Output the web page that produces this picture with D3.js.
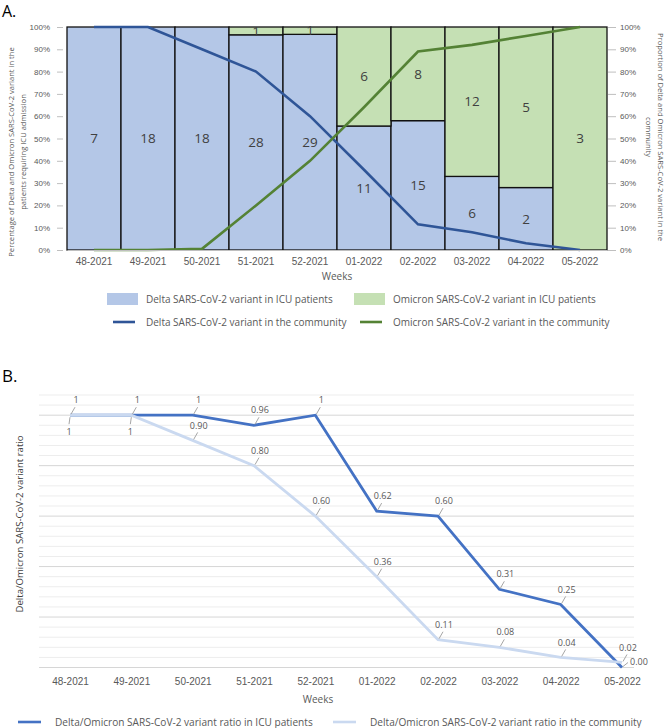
<!DOCTYPE html>
<html>
<head>
<meta charset="utf-8">
<script src="https://cdn.jsdelivr.net/npm/d3@7"></script>
<style>
  body { margin: 0; background: #fff; }
  svg { font-family: "Open Sans", Lato, sans-serif; }
</style>
</head>
<body>
<div id="chart"></div>
<script>
const weeks = ["48-2021", "49-2021", "50-2021", "51-2021", "52-2021",
  "01-2022", "02-2022", "03-2022", "04-2022", "05-2022"];

// panel A: ICU patients (counts shown in bars, share of Delta in %)
const deltaIcuCounts = [7, 18, 18, 28, 29, 11, 15, 6, 2, 0];
const omicronIcuCounts = [0, 0, 0, 1, 1, 6, 8, 12, 5, 3];
const deltaIcuShare = [100, 100, 100, 96.5, 96.7, 55.6, 58, 33, 28, 0];

// panel A: community proportions (%)
const deltaCommunity = [100, 100, 90, 80, 60, 36, 11.5, 8, 3, 0];
const omicronCommunity = [0, 0, 0.5, 20, 40, 64, 89, 92, 96, 100];

// panel B: Delta/Omicron ratios
const icuRatio = [1, 1, 1, 0.96, 1, 0.62, 0.60, 0.31, 0.25, 0.00];
const communityRatio = [1, 1, 0.90, 0.80, 0.60, 0.36, 0.11, 0.08, 0.04, 0.02];

const pctTicks = d3.range(0, 101, 10);

const width = 666;
const height = 728;

const svg = d3.select("#chart").append("svg")
  .attr("width", width)
  .attr("height", height);

const grey = "#595959";
const blueBar = "#b4c7e7";
const greenBar = "#c5e0b4";
const blueLine = "#2f5597";
const greenLine = "#548235";

// ---------------- Panel A ----------------
svg.append("text").attr("x", 2).attr("y", 17)
  .attr("font-size", 16).attr("fill", "#000").text("A.");

const xA = d3.scaleBand().domain(weeks).range([67, 607]).padding(0);
const yA = d3.scaleLinear().domain([0, 100]).range([250, 27]);

const a = svg.append("g");

// left axis
const leftAx = a.append("g").attr("transform", "translate(63,0)")
  .call(d3.axisLeft(yA).tickValues(pctTicks).tickSize(6).tickPadding(7)
    .tickFormat(d => d + "%"));
leftAx.select(".domain").remove();
leftAx.selectAll("line").attr("stroke", "#bfbfbf");
leftAx.selectAll("text").attr("fill", grey).attr("font-size", 8);

// right axis
const rightAx = a.append("g").attr("transform", "translate(608,0)")
  .call(d3.axisRight(yA).tickValues(pctTicks).tickSize(8).tickPadding(4)
    .tickFormat(d => d + "%"));
rightAx.select(".domain").remove();
rightAx.selectAll("line").attr("stroke", "#bfbfbf");
rightAx.selectAll("text").attr("fill", grey).attr("font-size", 8);

// bars
const rows = weeks.map((w, i) => ({
  week: w, share: deltaIcuShare[i],
  delta: deltaIcuCounts[i], omicron: omicronIcuCounts[i]
}));

a.selectAll("rect.delta").data(rows.filter(d => d.share > 0)).join("rect")
  .attr("class", "delta")
  .attr("x", d => xA(d.week))
  .attr("width", xA.bandwidth())
  .attr("y", d => yA(d.share))
  .attr("height", d => yA(0) - yA(d.share))
  .attr("fill", blueBar).attr("stroke", "#111").attr("stroke-width", 1.3);

a.selectAll("rect.omicron").data(rows.filter(d => d.share < 100)).join("rect")
  .attr("class", "omicron")
  .attr("x", d => xA(d.week))
  .attr("width", xA.bandwidth())
  .attr("y", yA(100))
  .attr("height", d => yA(d.share) - yA(100))
  .attr("fill", greenBar).attr("stroke", "#111").attr("stroke-width", 1.3);

// bar labels
a.selectAll("text.dlab").data(rows.filter(d => d.delta > 0)).join("text")
  .attr("x", d => xA(d.week) + xA.bandwidth() / 2)
  .attr("y", d => yA(d.share / 2))
  .attr("dy", "0.35em").attr("text-anchor", "middle")
  .attr("font-size", 13.5).attr("fill", "#404040")
  .text(d => d.delta);

a.selectAll("text.olab").data(rows.filter(d => d.omicron > 0)).join("text")
  .attr("x", d => xA(d.week) + xA.bandwidth() / 2)
  .attr("y", d => yA((100 + d.share) / 2))
  .attr("dy", "0.35em").attr("text-anchor", "middle")
  .attr("font-size", 13.5).attr("fill", "#404040")
  .text(d => d.omicron);

// community lines
const lineA = d3.line()
  .x((d, i) => xA(weeks[i]) + xA.bandwidth() / 2)
  .y(d => yA(d));

a.append("path").datum(deltaCommunity)
  .attr("d", lineA).attr("fill", "none")
  .attr("stroke", blueLine).attr("stroke-width", 2.6);
a.append("path").datum(omicronCommunity)
  .attr("d", lineA).attr("fill", "none")
  .attr("stroke", greenLine).attr("stroke-width", 2.6);

// x labels
const bottomAx = a.append("g").attr("transform", "translate(0,250)")
  .call(d3.axisBottom(xA).tickSize(0).tickPadding(8));
bottomAx.select(".domain").attr("stroke", "#bfbfbf");
bottomAx.selectAll("text").attr("fill", grey).attr("font-size", 10);

a.append("text").attr("x", 337).attr("y", 280)
  .attr("text-anchor", "middle").attr("font-size", 10).attr("fill", grey)
  .text("Weeks");

// axis titles
const leftTitle = a.append("text")
  .attr("transform", "translate(11,152) rotate(-90)")
  .attr("text-anchor", "middle").attr("font-size", 7.6).attr("fill", grey);
leftTitle.append("tspan").attr("x", 0).attr("dy", "0.35em")
  .text("Percentage of Delta and Omicron SARS-CoV-2 variant in the");
leftTitle.append("tspan").attr("x", 0).attr("dy", 12)
  .text("patients requiring ICU admission");

const rightTitle = a.append("text")
  .attr("transform", "translate(661,137) rotate(90)")
  .attr("text-anchor", "middle").attr("font-size", 7.6).attr("fill", grey);
rightTitle.append("tspan").attr("x", 0).attr("dy", "0.35em")
  .text("Proportion of Delta and Omicron SARS-CoV-2 variant in the");
rightTitle.append("tspan").attr("x", 0).attr("dy", 12)
  .text("community");

// legend A
const legA = [
  { label: "Delta SARS-CoV-2 variant in ICU patients", type: "rect", color: blueBar, x: 107, y: 299 },
  { label: "Omicron SARS-CoV-2 variant in ICU patients", type: "rect", color: greenBar, x: 354, y: 299 },
  { label: "Delta SARS-CoV-2 variant in the community", type: "line", color: blueLine, x: 107, y: 322 },
  { label: "Omicron SARS-CoV-2 variant in the community", type: "line", color: greenLine, x: 354, y: 322 }
];
legA.forEach(d => {
  if (d.type === "rect") {
    a.append("rect").attr("x", d.x).attr("y", d.y - 6)
      .attr("width", 31).attr("height", 12).attr("fill", d.color);
  } else {
    a.append("line").attr("x1", d.x + 6).attr("x2", d.x + 28)
      .attr("y1", d.y).attr("y2", d.y)
      .attr("stroke", d.color).attr("stroke-width", 2.6);
  }
  a.append("text").attr("x", d.x + 39).attr("y", d.y).attr("dy", "0.35em")
    .attr("font-size", 10).attr("fill", grey).text(d.label);
});

// ---------------- Panel B ----------------
svg.append("text").attr("x", 2).attr("y", 382)
  .attr("font-size", 17).attr("fill", "#000").text("B.");

const b = svg.append("g");
const xB = d3.scalePoint().domain(weeks).range([70, 622]);
const yB = d3.scaleLinear().domain([0, 1.08]).range([667.5, 395]);

const gridVals = d3.range(1, 28).map(k => k * 0.04);
b.selectAll("line.grid").data(gridVals).join("line")
  .attr("x1", 39).attr("x2", 634)
  .attr("y1", d => yB(d)).attr("y2", d => yB(d))
  .attr("stroke", d => Math.abs(d * 5 - Math.round(d * 5)) < 1e-6 ? "#d6d6d6" : "#ededed")
  .attr("stroke-width", 1);

const bAx = b.append("g").attr("transform", `translate(0,${yB(0)})`)
  .call(d3.axisBottom(xB).tickSize(0).tickPadding(10));
bAx.select(".domain").attr("d", "M39,0H634").attr("stroke", "#d6d6d6");
bAx.selectAll("text").attr("fill", grey).attr("font-size", 10);

b.append("text").attr("x", 318).attr("y", 699).attr("dy", "0.35em")
  .attr("text-anchor", "middle").attr("font-size", 10).attr("fill", grey)
  .text("Weeks");

b.append("text").attr("transform", "translate(20,524) rotate(-90)")
  .attr("text-anchor", "middle").attr("dy", "0.35em")
  .attr("font-size", 9.6).attr("fill", "#404040")
  .text("Delta/Omicron SARS-CoV-2 variant ratio");

const lineB = d3.line().x((d, i) => xB(weeks[i])).y(d => yB(d));

const icuColor = "#4472c4";
const commColor = "#cad9f0";

b.append("path").datum(icuRatio).attr("d", lineB)
  .attr("fill", "none").attr("stroke", icuColor).attr("stroke-width", 2.8);
b.append("path").datum(communityRatio).attr("d", lineB)
  .attr("fill", "none").attr("stroke", commColor).attr("stroke-width", 2.8);

// data labels with leader lines
const icuSide = ["below", "above", "above", "above", "above", "above", "above", "above", "above", "right"];
const commSide = ["above", "below", "above", "above", "above", "above", "above", "above", "above", "above"];
const fmt = v => v === 1 ? "1" : v.toFixed(2);
const place = {
  above: { dx: 6, dy: -15, l: [1, -1, 5, -8] },
  below: { dx: -1, dy: 17, l: [0, 2, -1, 9] },
  right: { dx: 17, dy: -6, l: [1, -1, 6, -5] }
};

function labels(values, sides) {
  values.forEach((v, i) => {
    const px = xB(weeks[i]), py = yB(v), p = place[sides[i]];
    b.append("line")
      .attr("x1", px + p.l[0]).attr("y1", py + p.l[1])
      .attr("x2", px + p.l[2]).attr("y2", py + p.l[3])
      .attr("stroke", "#a6a6a6").attr("stroke-width", 1);
    b.append("text").attr("x", px + p.dx).attr("y", py + p.dy)
      .attr("dy", "0.35em").attr("text-anchor", "middle")
      .attr("font-size", 9).attr("fill", grey).text(fmt(v));
  });
}
labels(icuRatio, icuSide);
labels(communityRatio, commSide);

// legend B
const legB = [
  { label: "Delta/Omicron SARS-CoV-2 variant ratio in ICU patients", color: icuColor, x: 18 },
  { label: "Delta/Omicron SARS-CoV-2 variant ratio in the community", color: commColor, x: 333 }
];
legB.forEach(d => {
  b.append("line").attr("x1", d.x).attr("x2", d.x + 23)
    .attr("y1", 722).attr("y2", 722)
    .attr("stroke", d.color).attr("stroke-width", 2.6);
  b.append("text").attr("x", d.x + 37).attr("y", 722).attr("dy", "0.35em")
    .attr("font-size", 10.1).attr("fill", grey).text(d.label);
});
</script>
</body>
</html>
